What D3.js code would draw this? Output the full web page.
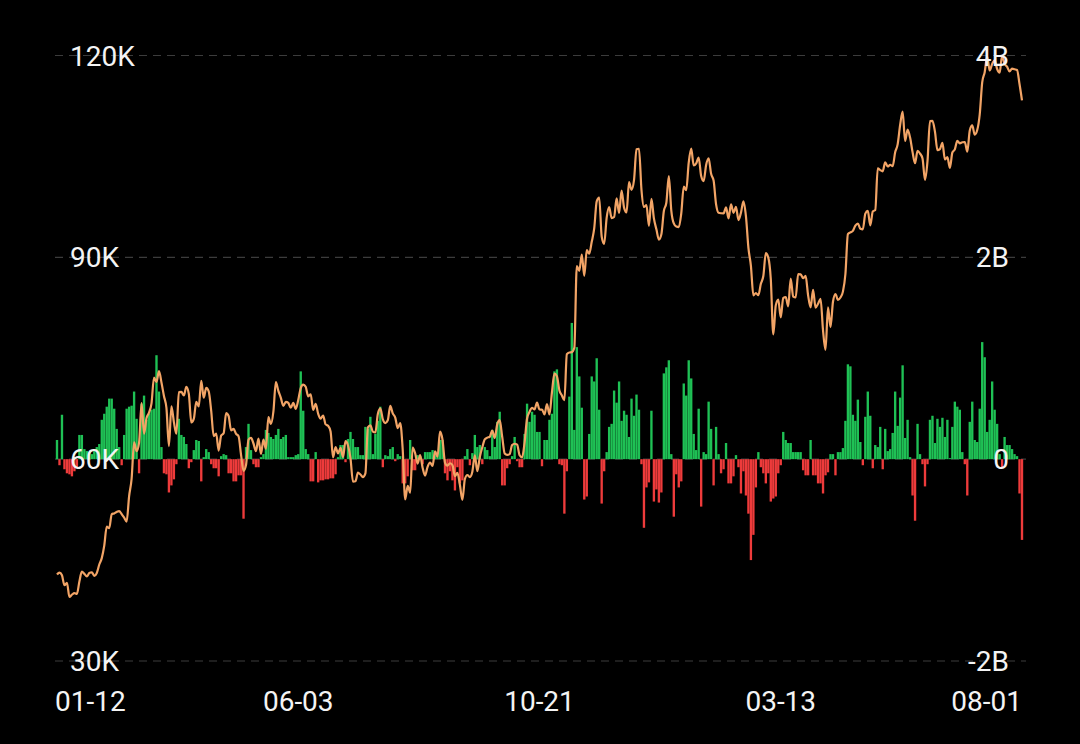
<!DOCTYPE html>
<html>
<head>
<meta charset="utf-8">
<script src="https://cdn.jsdelivr.net/npm/d3@7/dist/d3.min.js"></script>
<style>
  html, body { margin: 0; padding: 0; background: #000; }
  svg { display: block; }
</style>
</head>
<body>
<svg id="chart" width="1080" height="744"></svg>
<script>
// ---- Data (trading days 2024-01-12 .. 2025-08-01) ----
// Daily net flow, billions USD
const flows = [
 0.19,-0.06,0.44,-0.10,-0.14,-0.15,-0.17,-0.12,-0.08,0.24,0.24,0.10,0.08,
 0.07,0.05,0.08,0.12,0.15,0.39,0.45,0.52,0.60,0.60,0.50,0.30,0.12,-0.06,0.24,0.50,0.52,0.53,0.67,0.40,
 -0.14,0.55,0.63,0.39,0.45,0.49,0.50,1.03,0.67,0.12,-0.14,-0.15,-0.33,-0.26,-0.20,-0.05,0.40,0.24,0.22,0.15,
 -0.09,-0.03,0.09,0.19,0.18,-0.22,0.02,0.10,0.07,-0.05,-0.09,-0.09,-0.17,0.03,0.05,0.04,-0.14,-0.14,-0.22,-0.22,-0.16,-0.16,
 -0.59,0.12,0.35,0.09,-0.05,-0.08,-0.08,0.02,0.05,0.29,0.26,0.22,0.20,0.24,0.30,0.20,0.22,0.24,0.02,0.02,0.02,0.04,
 0.05,0.87,0.48,0.10,0.05,-0.22,-0.22,0.07,-0.23,-0.21,-0.21,-0.20,-0.20,-0.19,-0.19,-0.15,0.02,0.14,0.14,
 -0.03,0.20,0.27,0.20,0.12,0.12,0.04,0.04,0.32,0.30,0.42,0.05,0.25,0.38,0.52,-0.08,0.04,0.03,0.10,0.12,-0.02,0.05,
 0.03,-0.24,-0.24,-0.17,0.19,-0.11,-0.11,0.04,0.03,-0.05,0.07,0.07,0.07,0.09,0.04,0.06,0.19,0.19,-0.14,-0.21,-0.12,-0.21,
 -0.31,-0.08,-0.24,-0.21,0.03,0.10,-0.06,0.06,0.24,0.12,0.14,-0.05,0.12,0.09,0.03,0.29,0.12,0.37,0.47,-0.26,
 -0.26,-0.09,-0.05,0.03,0.22,-0.02,-0.08,-0.08,0.25,0.55,0.37,0.47,0.44,0.27,0.27,-0.07,0.19,0.19,0.39,0.45,0.87,0.89,-0.05,
 -0.06,-0.54,-0.12,0.62,1.35,0.29,1.11,0.82,0.51,-0.40,-0.37,0.25,0.82,0.77,1.00,0.49,-0.44,-0.12,0.07,0.32,
 0.35,0.68,0.56,0.77,0.38,0.48,0.44,0.22,0.60,0.43,0.64,0.49,-0.05,-0.68,-0.28,-0.23,0.48,-0.42,-0.30,-0.43,-0.33,
 0.85,0.91,0.98,0.05,-0.57,-0.15,-0.28,-0.22,0.75,0.63,0.98,0.80,0.25,0.09,0.50,-0.47,0.07,0.05,0.57,0.30,
 -0.26,0.32,0.05,-0.14,-0.10,0.16,-0.24,-0.24,-0.17,0.04,-0.08,-0.34,-0.12,-0.36,-0.54,-1.00,-0.75,-0.28,0.07,
 -0.08,-0.14,-0.24,-0.14,-0.42,-0.39,-0.37,-0.14,-0.06,0.27,0.19,0.16,0.16,0.07,0.07,0.07,0.07,-0.11,-0.16,-0.16,0.19,
 -0.16,-0.16,-0.24,-0.24,-0.34,-0.16,-0.13,0.05,0.05,-0.16,0.07,0.07,0.11,0.38,0.94,0.92,0.44,0.38,0.59,0.17,-0.06,
 0.42,0.67,0.43,-0.09,0.14,0.12,0.32,-0.10,0.30,0.08,0.10,0.26,0.67,0.33,0.61,0.93,0.21,0.39,0.02,-0.36,-0.61,
 0.35,0.05,-0.05,-0.27,-0.05,0.39,0.43,0.16,0.40,0.32,0.41,0.22,0.39,0.01,0.32,0.57,0.52,0.49,0.07,-0.05,
 -0.36,0.37,0.57,0.19,0.17,0.50,1.16,1.01,0.27,0.39,0.77,0.49,0.35,0.05,-0.08,0.22,0.14,0.14,0.10,0.05,0.03,-0.34,
 -0.80
];
// BTC price, thousands USD
const prices = [
 42.85,43.15,42.74,41.26,41.62,39.51,39.85,40.08,39.96,41.82,43.29,42.95,42.58,
 43.08,43.19,42.66,43.08,44.34,45.29,47.15,49.96,49.74,51.83,51.94,52.16,52.28,51.84,51.30,50.73,54.52,57.09,62.50,61.20,
 62.44,68.33,63.80,66.11,66.93,68.30,72.12,71.48,73.10,71.40,69.40,67.61,61.94,67.84,65.50,63.78,69.96,69.99,69.46,70.74,
 69.70,65.45,65.98,68.51,67.84,71.63,69.14,70.59,70.06,67.19,63.43,63.81,61.28,63.51,63.84,66.84,66.41,64.28,64.50,63.76,63.42,60.64,
 58.25,59.12,62.89,63.16,62.33,61.19,63.07,60.79,62.90,61.55,66.27,65.23,67.05,71.45,70.14,69.12,67.93,68.53,68.36,67.64,68.36,67.49,
 68.80,70.57,71.08,70.76,69.34,69.65,67.32,68.24,66.76,66.01,66.49,65.17,64.96,64.10,60.28,61.80,60.86,61.67,60.32,
 62.67,62.03,60.15,56.66,56.71,57.99,57.72,57.34,57.89,64.72,65.04,64.09,63.97,66.71,67.55,65.93,65.37,65.78,67.91,66.80,66.19,64.62,
 65.35,61.42,54.02,56.03,55.03,61.71,60.88,59.35,60.61,58.74,57.56,58.87,59.49,59.01,61.18,60.38,64.09,62.88,59.50,59.03,59.39,59.12,
 57.48,57.97,56.16,53.95,57.05,57.65,57.34,58.13,60.57,58.21,60.31,61.76,62.95,63.20,63.33,64.26,63.14,65.18,65.79,63.33,
 60.84,60.63,60.75,62.09,62.29,62.15,60.58,60.27,62.45,66.05,67.04,67.61,67.40,68.42,67.38,67.37,66.65,68.17,66.64,69.91,72.72,72.34,70.22,
 69.48,68.77,75.60,75.86,75.90,76.55,88.70,88.00,90.39,87.25,91.07,90.54,92.31,94.29,98.32,98.89,93.10,91.99,95.86,97.46,
 95.84,96.00,98.77,96.59,99.92,97.39,96.68,101.17,100.04,101.46,106.06,106.14,100.04,97.49,97.76,94.69,98.68,95.79,94.16,92.64,93.43,
 96.89,98.11,102.08,96.92,95.04,94.57,94.49,96.53,100.50,99.99,104.08,106.15,103.65,103.96,104.82,102.08,101.33,103.73,104.73,102.41,
 101.41,97.87,96.62,96.55,96.53,97.43,95.78,97.87,96.62,97.51,95.54,96.64,98.33,96.13,91.42,88.74,84.35,84.70,84.37,
 86.07,87.22,90.62,89.96,86.74,78.53,82.86,83.72,81.07,83.97,84.08,82.72,86.85,84.17,84.04,87.50,87.47,86.90,87.23,84.35,82.55,
 85.15,82.52,83.10,83.84,79.14,76.27,82.57,79.63,83.40,84.54,83.67,84.03,84.90,87.52,93.44,93.70,93.94,94.72,95.03,94.26,94.17,
 96.49,96.91,94.75,96.83,97.03,103.24,102.97,102.79,104.13,103.50,103.76,103.55,105.62,106.79,109.67,111.67,107.29,108.99,107.80,105.64,103.99,
 105.82,105.43,104.70,101.51,104.29,110.26,110.27,108.69,105.93,106.09,107.00,104.55,104.88,103.31,105.58,106.05,107.32,106.95,107.10,107.14,
 105.70,108.85,109.60,108.23,108.92,111.23,115.99,117.52,119.84,117.78,118.74,119.29,117.99,117.44,119.95,118.76,118.34,117.64,118.06,117.95,117.84,115.76,
 113.32
];
const xTickIndex = [0, 97, 194, 291, 388];
const xTickLabels = ["01-12", "06-03", "10-21", "03-13", "08-01"];
const leftTicks = [30, 60, 90, 120];
const leftTickLabels = ["30K", "60K", "90K", "120K"];
const rightTicks = [-2, 0, 2, 4];
const rightTickLabels = ["-2B", "0", "2B", "4B"];

// ---- Drawing ----
const svg = d3.select("#chart");
const W = 1080, H = 744;
svg.append("rect").attr("width", W).attr("height", H).attr("fill", "#000");

const x = d3.scaleLinear().domain([0, flows.length - 1]).range([57, 1022]);
const yL = d3.scaleLinear().domain([30, 120]).range([661, 55.5]);
const yR = d3.scaleLinear().domain([-2, 4]).range([661, 55.5]);

// grid
svg.append("g").selectAll("line").data(leftTicks).join("line")
  .attr("x1", 55).attr("x2", 1026)
  .attr("y1", d => yL(d)).attr("y2", d => yL(d))
  .attr("stroke", "#3c3c3c").attr("stroke-width", 1.2)
  .attr("stroke-dasharray", "8,6");

// bars
const bw = 2.35;
svg.append("g").selectAll("rect").data(flows).join("rect")
  .attr("x", (d, i) => x(i) - bw / 2)
  .attr("width", bw)
  .attr("y", d => d >= 0 ? yR(d) : yR(0))
  .attr("height", d => Math.abs(yR(d) - yR(0)))
  .attr("fill", d => d >= 0 ? "#1fc155" : "#ee3b3b");

// price line
const line = d3.line()
  .x((d, i) => x(i))
  .y(d => yL(d))
  .curve(d3.curveMonotoneX);
svg.append("path").datum(prices)
  .attr("d", line)
  .attr("fill", "none")
  .attr("stroke", "#f2a466")
  .attr("stroke-width", 2.2)
  .attr("stroke-linejoin", "round");

const font = "Roboto, 'Noto Sans', sans-serif";
// left labels
svg.append("g").selectAll("text").data(leftTicks).join("text")
  .attr("x", 70).attr("y", d => yL(d))
  .attr("dy", "0.36em")
  .attr("fill", "#f4f4f4")
  .style("font-family", font).style("font-size", "28px")
  .text((d, i) => leftTickLabels[i]);
// right labels
svg.append("g").selectAll("text").data(rightTicks).join("text")
  .attr("x", 1009).attr("y", d => yR(d))
  .attr("dy", "0.36em")
  .attr("text-anchor", "end")
  .attr("fill", "#f4f4f4")
  .style("font-family", font).style("font-size", "28px")
  .text((d, i) => rightTickLabels[i]);
// x labels
svg.append("g").selectAll("text").data(xTickIndex).join("text")
  .attr("x", (d, i) => i === 0 ? x(d) - 2 : x(d))
  .attr("y", 711)
  .attr("text-anchor", (d, i) => i === 0 ? "start" : (i === xTickIndex.length - 1 ? "end" : "middle"))
  .attr("fill", "#f4f4f4")
  .style("font-family", font).style("font-size", "28px")
  .text((d, i) => xTickLabels[i]);
</script>
</body>
</html>
